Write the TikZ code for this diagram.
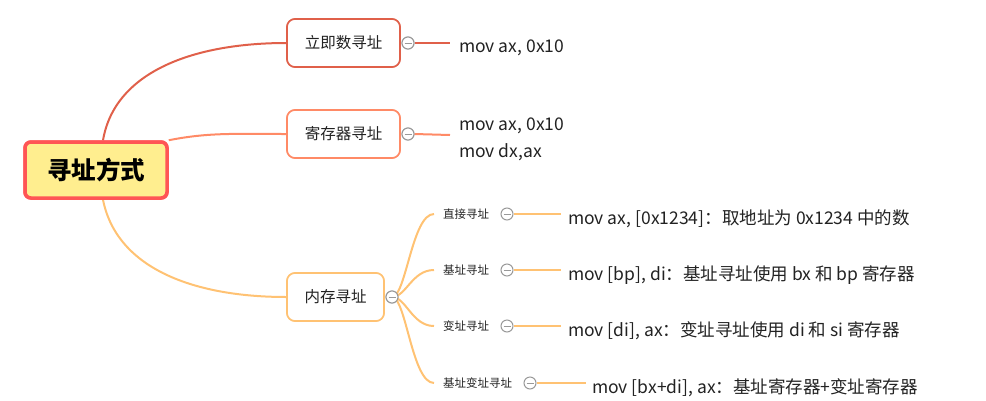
\documentclass[tikz,border=0pt]{standalone}
\usepackage{fontspec}
\newfontfamily\cjk{Noto Sans CJK SC}
\definecolor{cA}{HTML}{E0604A}
\definecolor{cB}{HTML}{FF8A66}
\definecolor{cC}{HTML}{FFC273}
\definecolor{rootfill}{HTML}{FFEE8F}
\definecolor{rootline}{HTML}{FF5555}
\definecolor{knob}{HTML}{999999}
\definecolor{txt}{HTML}{222222}
\tikzset{
  rootbox/.style={draw=rootline, fill=rootfill, line width=3.5pt, rounded corners=6pt,
    minimum width=142pt, minimum height=56pt, inner sep=0pt, text=black,
    font=\cjk\fontsize{24.5}{28}\selectfont\bfseries},
  topicbox/.style={draw=#1, fill=white, line width=1.6pt, rounded corners=8pt,
    minimum height=48pt, inner sep=0pt, text=txt, font=\cjk\fontsize{15.5}{18}\selectfont},
  knobc/.style={circle, draw=knob, fill=white, line width=1pt, minimum size=12pt, inner sep=0pt,
    path picture={\draw[knob, line width=1pt] ([xshift=-3.5pt]path picture bounding box.center) -- ([xshift=3.5pt]path picture bounding box.center);}},
  branch/.style={draw=#1, line width=2pt},
  sublabel/.style={anchor=west, inner sep=0pt, text=txt, font=\cjk\fontsize{11.5}{13}\selectfont},
  codetxt/.style={anchor=west, inner sep=0pt, text=txt, font=\cjk\fontsize{17.5}{27}\selectfont, align=left},
}
\begin{document}
\begin{tikzpicture}[x=1pt,y=-1pt]
\useasboundingbox (0,0) rectangle (986,400);

% root
\node[rootbox] (root) at (96,170) {寻址方式};
% main topics
\node[topicbox=cA, minimum width=113pt] (t1) at (343.5,43) {立即数寻址};
\node[topicbox=cB, minimum width=113pt] (t2) at (343.5,134) {寄存器寻址};
\node[topicbox=cC, minimum width=97pt] (t3) at (335.5,297) {内存寻址};

% knobs
\node[knobc] (k1) at (408,43) {};
\node[knobc] (k2) at (408,134) {};
\node[knobc] (k3) at (392,297) {};

% texts of topics 1 and 2
\node[codetxt] (x1) at (459,48) {mov ax, 0x10};
\node[codetxt, anchor=north west] (x2) at (459,118) {mov ax, 0x10\\mov dx,ax};
\coordinate (e1) at (450,43);
\coordinate (e2) at (450,135);

% sub labels
\node[sublabel] (s1) at (443,214) {直接寻址};
\node[sublabel] (s2) at (443,270) {基址寻址};
\node[sublabel] (s3) at (443,326) {变址寻址};
\node[sublabel] (s4) at (443,383) {基址变址寻址};
\coordinate (a1) at (434,214);
\coordinate (a2) at (434,270);
\coordinate (a3) at (434,326);
\coordinate (a4) at (434,383);

\node[knobc] (k4) at (507,214) {};
\node[knobc] (k5) at (507,270) {};
\node[knobc] (k6) at (507,326) {};
\node[knobc] (k7) at (530,383) {};

\coordinate (f1) at (561,214);
\coordinate (f2) at (561,270);
\coordinate (f3) at (561,326);
\coordinate (f4) at (586,383);

\node[codetxt] (y1) at (568,219) {mov ax, [0x1234]：取地址为 0x1234 中的数};
\node[codetxt] (y2) at (568,275) {mov [bp], di：基址寻址使用 bx 和 bp 寄存器};
\node[codetxt] (y3) at (568,331) {mov [di], ax：变址寻址使用 di 和 si 寄存器};
\node[codetxt] (y4) at (592,388) {mov [bx+di], ax：基址寄存器+变址寄存器};

% connectors from root
\draw[branch=cA] ([xshift=7pt]root.north) .. controls +(12,-70) and +(-90,0) .. (t1.west);
\draw[branch=cB] (root.north east) .. controls +(40,-8) and +(-50,0) .. (t2.west);
\draw[branch=cC] ([xshift=7pt]root.south) .. controls +(14,70) and +(-90,0) .. (t3.west);
% knob lines
\draw[branch=cA] (k1.east) -- (e1);
\draw[branch=cB] (k2.east) -- (e2);
% sub curves
\foreach \a in {a1,a2,a3,a4}{
  \draw[branch=cC] (k3.center) .. controls +(14,0) and +(-22,0) .. (\a);
}
\draw[branch=cC] (k4.east) -- (f1);
\draw[branch=cC] (k5.east) -- (f2);
\draw[branch=cC] (k6.east) -- (f3);
\draw[branch=cC] (k7.east) -- (f4);

% redraw boxes and knobs on top
\node[topicbox=cA, minimum width=113pt] at (t1) {立即数寻址};
\node[topicbox=cB, minimum width=113pt] at (t2) {寄存器寻址};
\node[topicbox=cC, minimum width=97pt] at (t3) {内存寻址};
\node[rootbox] at (root) {寻址方式};
\node[knobc] at (k1) {};
\node[knobc] at (k2) {};
\node[knobc] at (k3) {};
\end{tikzpicture}
\end{document}
